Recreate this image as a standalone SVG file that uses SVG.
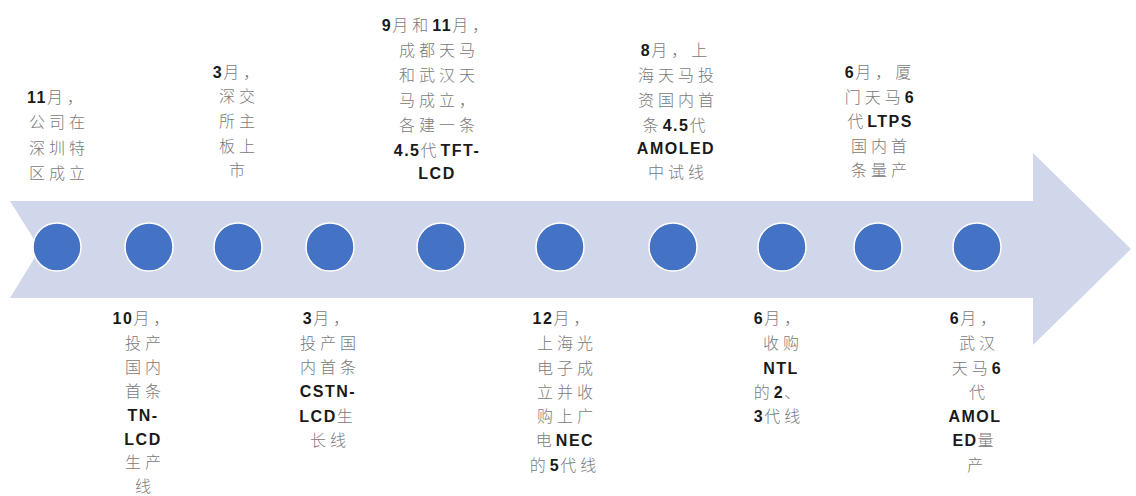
<svg xmlns="http://www.w3.org/2000/svg" width="1136" height="496" viewBox="0 0 1136 496">
<style>
.t{font-family:"Noto Sans CJK SC","Liberation Sans",sans-serif;font-size:16px;fill:#7a7a7a;letter-spacing:4px;text-anchor:middle;font-weight:300}
.b{font-family:"Liberation Sans",Arial,sans-serif;font-weight:bold;fill:#1a1a1a;letter-spacing:1.5px}
.dot{fill:#4472C4;stroke:#ffffff;stroke-width:1.5}
</style>
<rect width="1136" height="496" fill="#ffffff"/>
<g id="connectors">
<polygon points="10,201 1033,201 1033,153 1131,249 1033,345 1033,298 10,298 40,249" fill="#D0D7EA"/>
</g>
<g id="dots">
<circle class="dot" cx="57" cy="247" r="24"/>
<circle class="dot" cx="149" cy="247" r="24"/>
<circle class="dot" cx="238" cy="247" r="24"/>
<circle class="dot" cx="330" cy="247" r="24"/>
<circle class="dot" cx="441" cy="247" r="24"/>
<circle class="dot" cx="560" cy="247" r="24"/>
<circle class="dot" cx="673" cy="247" r="24"/>
<circle class="dot" cx="782" cy="247" r="24"/>
<circle class="dot" cx="878" cy="247" r="24"/>
<circle class="dot" cx="977" cy="247" r="24"/>
</g>
<g id="e1">
<text class="t" x="57" y="103"><tspan class="b">11</tspan>月，</text>
<text class="t" x="59" y="128">公司在</text>
<text class="t" x="59" y="154">深圳特</text>
<text class="t" x="59" y="179">区成立</text>
</g>
<g id="e2">
<text class="t" x="238" y="78"><tspan class="b">3</tspan>月，</text>
<text class="t" x="239" y="102">深交</text>
<text class="t" x="239" y="127">所主</text>
<text class="t" x="239" y="152">板上</text>
<text class="t" x="239" y="176">市</text>
</g>
<g id="e3">
<text class="t" x="437" y="31"><tspan class="b">9</tspan>月和<tspan class="b">11</tspan>月，</text>
<text class="t" x="439" y="56">成都天马</text>
<text class="t" x="439" y="81">和武汉天</text>
<text class="t" x="439" y="106">马成立，</text>
<text class="t" x="439" y="131">各建一条</text>
<text class="t" x="437" y="156"><tspan class="b">4.5</tspan>代<tspan class="b">TFT-</tspan></text>
<text class="t" x="437" y="179"><tspan class="b">LCD</tspan></text>
</g>
<g id="e4">
<text class="t" x="676" y="56"><tspan class="b">8</tspan>月，上</text>
<text class="t" x="678" y="81">海天马投</text>
<text class="t" x="678" y="106">资国内首</text>
<text class="t" x="676" y="131">条<tspan class="b">4.5</tspan>代</text>
<text class="t" x="676" y="154"><tspan class="b">AMOLED</tspan></text>
<text class="t" x="678" y="178">中试线</text>
</g>
<g id="e5">
<text class="t" x="880" y="78"><tspan class="b">6</tspan>月，厦</text>
<text class="t" x="880" y="103">门天马<tspan class="b">6</tspan></text>
<text class="t" x="880" y="127">代<tspan class="b">LTPS</tspan></text>
<text class="t" x="881" y="152">国内首</text>
<text class="t" x="881" y="176">条量产</text>
</g>
<g id="e6">
<text class="t" x="143" y="324"><tspan class="b">10</tspan>月，</text>
<text class="t" x="145" y="349">投产</text>
<text class="t" x="145" y="373">国内</text>
<text class="t" x="145" y="397">首条</text>
<text class="t" x="143" y="421"><tspan class="b">TN-</tspan></text>
<text class="t" x="143" y="445"><tspan class="b">LCD</tspan></text>
<text class="t" x="145" y="468">生产</text>
<text class="t" x="145" y="492">线</text>
</g>
<g id="e7">
<text class="t" x="328" y="324"><tspan class="b">3</tspan>月，</text>
<text class="t" x="330" y="349">投产国</text>
<text class="t" x="330" y="373">内首条</text>
<text class="t" x="328" y="397"><tspan class="b">CSTN-</tspan></text>
<text class="t" x="328" y="422"><tspan class="b">LCD</tspan>生</text>
<text class="t" x="330" y="446">长线</text>
</g>
<g id="e8">
<text class="t" x="563" y="324"><tspan class="b">12</tspan>月，</text>
<text class="t" x="567" y="349">上海光</text>
<text class="t" x="567" y="374">电子成</text>
<text class="t" x="567" y="398">立并收</text>
<text class="t" x="567" y="422">购上广</text>
<text class="t" x="565" y="446">电<tspan class="b">NEC</tspan></text>
<text class="t" x="565" y="471">的<tspan class="b">5</tspan>代线</text>
</g>
<g id="e9">
<text class="t" x="779" y="324"><tspan class="b">6</tspan>月，</text>
<text class="t" x="783" y="349">收购</text>
<text class="t" x="781" y="374"><tspan class="b">NTL</tspan></text>
<text class="t" x="779" y="398">的<tspan class="b">2</tspan>、</text>
<text class="t" x="779" y="422"><tspan class="b">3</tspan>代线</text>
</g>
<g id="e10">
<text class="t" x="975" y="324"><tspan class="b">6</tspan>月，</text>
<text class="t" x="979" y="349">武汉</text>
<text class="t" x="977" y="374">天马<tspan class="b">6</tspan></text>
<text class="t" x="979" y="398">代</text>
<text class="t" x="975" y="422"><tspan class="b">AMOL</tspan></text>
<text class="t" x="975" y="446"><tspan class="b">ED</tspan>量</text>
<text class="t" x="977" y="471">产</text>
</g>
</svg>
